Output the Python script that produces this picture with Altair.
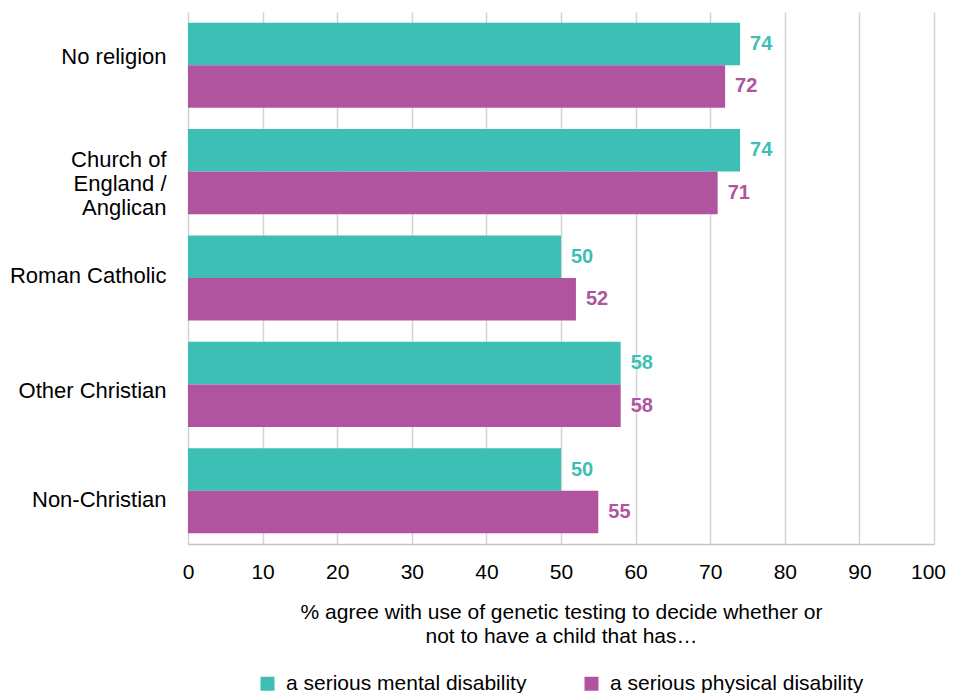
import altair as alt
import pandas as pd

categories = ["No religion", "Church of England / Anglican", "Roman Catholic",
              "Other Christian", "Non-Christian"]
series = ["a serious mental disability", "a serious physical disability"]
mental = [74, 74, 50, 58, 50]
physical = [72, 71, 52, 58, 55]
x_ticks = [0, 10, 20, 30, 40, 50, 60, 70, 80, 90, 100]
colors = ["#3DBFB5", "#B0549F"]
x_title = ["% agree with use of genetic testing to decide whether or",
           "not to have a child that has\u2026"]

rows = []
for c, m, p in zip(categories, mental, physical):
    rows.append({"religion": c, "series": series[0], "value": m})
    rows.append({"religion": c, "series": series[1], "value": p})
df = pd.DataFrame(rows)

FONT = "Liberation Sans"

label_offset = {
    "condition": [
        {"test": "datum.value == 'No religion'", "value": -8},
        {"test": "datum.value == 'Church of England / Anglican'", "value": -12},
        {"test": "datum.value == 'Roman Catholic'", "value": -2},
        {"test": "datum.value == 'Other Christian'", "value": 7},
        {"test": "datum.value == 'Non-Christian'", "value": 9},
    ],
    "value": 0,
}
x_label_offset = {
    "condition": {"test": "datum.value == 100", "value": -6},
    "value": 0,
}

y_enc = alt.Y(
    "religion:N", sort=categories,
    scale=alt.Scale(paddingInner=0.2, paddingOuter=0.1),
    axis=alt.Axis(
        title=None, ticks=False, domain=False, grid=False,
        labelFontSize=22, labelPadding=22, labelLimit=400,
        labelLineHeight=24, labelColor="#000000", labelFont=FONT,
        labelOffset=label_offset,
        labelExpr="datum.value == 'Church of England / Anglican' ? ['Church of', 'England /', 'Anglican'] : datum.value",
    ),
)
x_enc = alt.X(
    "value:Q",
    scale=alt.Scale(domain=[0, 100], nice=False),
    axis=alt.Axis(
        values=x_ticks, grid=True, gridColor="#d4d4d4", gridWidth=1.5,
        domainColor="#c4c4c4", domainWidth=1.5, ticks=False,
        labelFontSize=21, labelPadding=17, labelColor="#000000", labelFont=FONT,
        labelFlush=False, labelOffset=x_label_offset,
        title=x_title, titleFontSize=21, titleFontWeight="normal",
        titleFont=FONT, titleColor="#000000",
        titlePadding=19, titleLineHeight=24,
    ),
)
yoff = alt.YOffset("series:N", sort=series,
                   scale=alt.Scale(paddingInner=0, paddingOuter=0))
color_scale = alt.Scale(domain=series, range=colors)

bars = alt.Chart(df).mark_bar().encode(
    x=x_enc, y=y_enc, yOffset=yoff,
    color=alt.Color(
        "series:N", scale=color_scale, sort=series,
        legend=alt.Legend(
            orient="none", legendX=69, legendY=661, direction="horizontal",
            title=None, symbolType="square", symbolSize=196,
            symbolStrokeWidth=0, labelFontSize=21, labelFont=FONT,
            labelColor="#000000", columnPadding=54, labelOffset=8,
            labelLimit=400,
        ),
    ),
)

labels = alt.Chart(df).mark_text(
    align="left", baseline="middle", dx=10, fontSize=20,
    fontWeight="bold", font=FONT,
).encode(
    x="value:Q", y=alt.Y("religion:N", sort=categories), yOffset=yoff,
    text="value:Q",
    color=alt.Color("series:N", scale=color_scale, legend=None),
)

chart = alt.layer(bars, labels).properties(
    width=746, height=532,
    autosize=alt.AutoSizeParams(type="none"),
    padding={"left": 180, "top": 4, "right": 13, "bottom": 150},
).configure_view(stroke=None)

chart.save("out.html", embed_options={"renderer": "svg", "actions": False})
